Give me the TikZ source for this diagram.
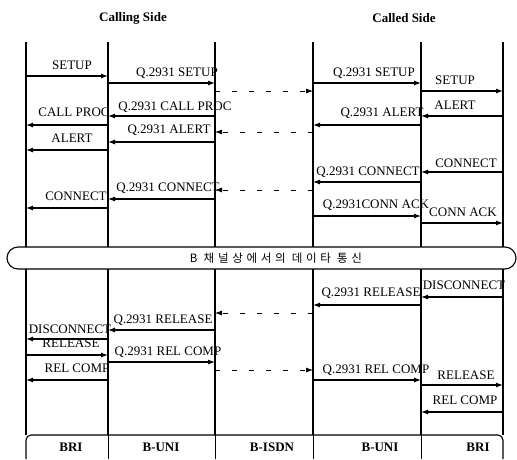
\documentclass[tikz,border=0pt]{standalone}
\usepackage{fontspec}
\setmainfont{Liberation Serif}
\newfontfamily\kr[LetterSpace=32]{Noto Sans CJK KR}
\usetikzlibrary{arrows.meta}
\tikzset{
  vida/.style={line width=1.1pt},
  fl/.style={-{Latex[length=7pt,width=5pt]}, line width=1.1pt},
  fldash/.style={-{Latex[length=7pt,width=5pt]}, line width=0.8pt, dash pattern=on 5pt off 12pt},
  et/.style={font=\fontsize{13}{15}\selectfont, inner sep=0pt},
  tit/.style={font=\fontsize{13}{15}\selectfont\bfseries, inner sep=0pt},
}

\begin{document}
\begin{tikzpicture}[x=1pt, y=-1pt]
  \useasboundingbox (0,0) rectangle (517,459);
  % lifelines
  \foreach \i/\x in {1/26, 2/108, 3/215, 4/313, 5/421, 6/503}
    \coordinate (v\i) at (\x,42);
  \foreach \i in {1,...,6} {
    \draw[vida] (v\i) -- (v\i |- 0,247);
    \draw[vida] (v\i |- 0,269) -- (v\i |- 0,435);
  }
  \foreach \i in {2,...,5}
    \draw[line width=0.6pt] (v\i |- 0,435) -- (v\i |- 0,459);
  \draw[vida, rounded corners=5pt] (v1 |- 0,459) |- (v6 |- 0,435) -- (v6 |- 0,459);

  \node[tit] (calling) at (133,18) {Calling Side};
  \node[tit] (called) at (404,18) {Called Side};

  % calling side, set up
  \node[et] (setA) at (72,65) {SETUP};
  \draw[fl] (v1 |- 0,76) -- (v2 |- 0,76);
  \node[et] (qsetA) at (177,73) {Q.2931 SETUP};
  \draw[fl] (v2 |- 0,83) -- (v3 |- 0,83);
  \node[et] (qprocA) at (175,107) {Q.2931 CALL PROC};
  \draw[fl] (v3 |- 0,116) -- (v2 |- 0,116);
  \node[et] (procA) at (74,112) {CALL PROC};
  \draw[fl] (v2 |- 0,125) -- (v1 |- 0,125);
  \node[et] (qalA) at (169,130) {Q.2931 ALERT};
  \draw[fl] (v3 |- 0,142) -- (v2 |- 0,142);
  \node[et] (alA) at (72,138) {ALERT};
  \draw[fl] (v2 |- 0,150) -- (v1 |- 0,150);
  \node[et] (qconA) at (168,188) {Q.2931 CONNECT};
  \draw[fl] (v3 |- 0,199) -- (v2 |- 0,199);
  \node[et] (conA) at (76,196) {CONNECT};
  \draw[fl] (v2 |- 0,208) -- (v1 |- 0,208);

  % across the network
  \draw[fldash] (v3 |- 0,91) -- (v4 |- 0,91);
  \draw[fldash] (v4 |- 0,132) -- (v3 |- 0,132);
  \draw[fldash] (v4 |- 0,190) -- (v3 |- 0,190);

  % called side, set up
  \node[et] (qsetB) at (374,73) {Q.2931 SETUP};
  \draw[fl] (v4 |- 0,83) -- (v5 |- 0,83);
  \node[et] (setB) at (455,80) {SETUP};
  \draw[fl] (v5 |- 0,91) -- (v6 |- 0,91);
  \node[et] (alB) at (455,105) {ALERT};
  \draw[fl] (v6 |- 0,116) -- (v5 |- 0,116);
  \node[et] (qalB) at (382,113) {Q.2931 ALERT};
  \draw[fl] (v5 |- 0,125) -- (v4 |- 0,125);
  \node[et] (conB) at (466,163) {CONNECT};
  \draw[fl] (v6 |- 0,172) -- (v5 |- 0,172);
  \node[et] (qconB) at (368,172) {Q.2931 CONNECT};
  \draw[fl] (v5 |- 0,182) -- (v4 |- 0,182);
  \node[et] (qackB) at (376,205) {Q.2931CONN ACK};
  \draw[fl] (v4 |- 0,216) -- (v5 |- 0,216);
  \node[et] (ackB) at (463,212) {CONN ACK};
  \draw[fl] (v5 |- 0,223) -- (v6 |- 0,223);

  % data phase
  \draw[vida, rounded corners=11pt] (7,247) rectangle (516,269);
  \node[inner sep=0pt, font=\kr\fontsize{11.5}{13}\selectfont] (datos) at (276,258) {B 채널상에서의 데이타 통신};

  % release
  \node[et] (discB) at (464,285) {DISCONNECT};
  \draw[fl] (v6 |- 0,297) -- (v5 |- 0,297);
  \node[et] (qrelB) at (371,293) {Q.2931 RELEASE};
  \draw[fl] (v5 |- 0,305) -- (v4 |- 0,305);
  \draw[fldash] (v4 |- 0,313) -- (v3 |- 0,313);
  \node[et] (qrelA) at (163,320) {Q.2931 RELEASE};
  \draw[fl] (v3 |- 0,330) -- (v2 |- 0,330);
  \node[et] (discA) at (70,329) {DISCONNECT};
  \draw[fl] (v2 |- 0,339) -- (v1 |- 0,339);
  \node[et] (relA) at (71,343) {RELEASE};
  \draw[fl] (v1 |- 0,355) -- (v2 |- 0,355);
  \node[et] (qcompA) at (168,352) {Q.2931 REL COMP};
  \draw[fl] (v2 |- 0,362) -- (v3 |- 0,362);
  \node[et] (compA) at (77,368) {REL COMP};
  \draw[fl] (v2 |- 0,380) -- (v1 |- 0,380);
  \draw[fldash] (v3 |- 0,370) -- (v4 |- 0,370);
  \node[et] (qcompB) at (376,370) {Q.2931 REL COMP};
  \draw[fl] (v4 |- 0,380) -- (v5 |- 0,380);
  \node[et] (relB) at (466,375) {RELEASE};
  \draw[fl] (v5 |- 0,385) -- (v6 |- 0,385);
  \node[et] (compB) at (465,400) {REL COMP};
  \draw[fl] (v6 |- 0,412) -- (v5 |- 0,412);

  % interfaces
  \node[tit] (briA) at (71,447) {BRI};
  \node[tit] (uniA) at (161,447) {B-UNI};
  \node[tit] (isdn) at (272,447) {B-ISDN};
  \node[tit] (uniB) at (380,447) {B-UNI};
  \node[tit] (briB) at (478,447) {BRI};
\end{tikzpicture}
\end{document}
